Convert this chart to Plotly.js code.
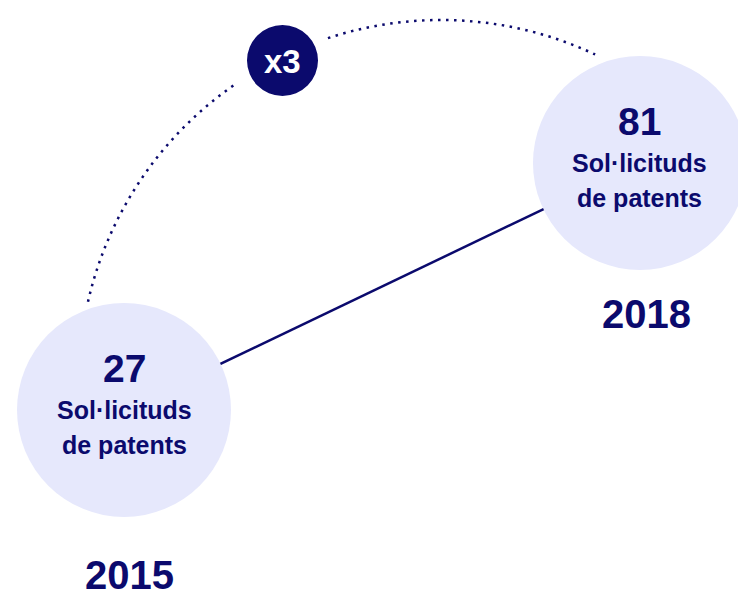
<!DOCTYPE html>
<html>
<head>
<meta charset="utf-8">
<script src="https://cdn.plot.ly/plotly-3.0.1.min.js"></script>
<style>
  html, body { margin: 0; padding: 0; background: #ffffff; }
  #chart { width: 738px; height: 600px; }
</style>
</head>
<body>
<div id="chart"></div>
<script>
// Patent applications, 2015 vs 2018

var years = [2015, 2018];
var year_labels = ['2015', '2018'];
var counts = [27, 81];
var label_lines = ['Sol·licituds', 'de patents'];

var NAVY = '#0b0a6d';
var LAVENDER = '#e6e8fc';
var FONT = 'Liberation Sans, Arial, sans-serif';
var W = 738, H = 600;

// pixel -> paper helpers, used only for the decorations (arc and badge)
function px(x){ return x / W; }
function py(y){ return 1 - y / H; }

// Dotted arc built from cubic bezier segments (pixel space, then paper)
function arc_path(cx, cy, r, a1, a2){
	var t1 = a1 * Math.PI / 180;
	var t2 = a2 * Math.PI / 180;
	var h = 4 / 3 * Math.tan((t2 - t1) / 4);
	var p0 = [cx + r * Math.cos(t1), cy - r * Math.sin(t1)];
	var p3 = [cx + r * Math.cos(t2), cy - r * Math.sin(t2)];
	var p1 = [p0[0] - h * r * Math.sin(t1), p0[1] - h * r * Math.cos(t1)];
	var p2 = [p3[0] + h * r * Math.sin(t2), p3[1] + h * r * Math.cos(t2)];
	return 'M ' + px(p0[0]) + ',' + py(p0[1]) +
		' C ' + px(p1[0]) + ',' + py(p1[1]) + ' ' +
		px(p2[0]) + ',' + py(p2[1]) + ' ' +
		px(p3[0]) + ',' + py(p3[1]);
}

var arc_line = {color: NAVY, width: 2.5, dash: '2.5px,5.5px'};
var shapes = [
	{type: 'path', xref: 'paper', yref: 'paper', layer: 'below',
		path: arc_path(441, 382, 362, 167.2, 124.2), line: arc_line},
	{type: 'path', xref: 'paper', yref: 'paper', layer: 'below',
		path: arc_path(441, 382, 362, 108.2, 64.8), line: arc_line},
	// x3 badge
	{type: 'circle', xref: 'paper', yref: 'paper', layer: 'above',
		x0: px(282.5 - 35.5), x1: px(282.5 + 35.5),
		y0: py(60.5 + 35.5), y1: py(60.5 - 35.5),
		fillcolor: NAVY, line: {width: 0}}
];

var traces = [
	{
		x: years, y: counts,
		mode: 'lines',
		line: {color: NAVY, width: 2.5},
		hoverinfo: 'skip'
	},
	{
		x: years, y: counts,
		mode: 'markers',
		marker: {size: 214, color: LAVENDER, line: {width: 0}},
		hoverinfo: 'skip'
	}
];

var annotations = [];
var year_shift = [[5, -165], [7, -151]];
years.forEach(function(yr, i){
	annotations.push({
		x: yr, y: counts[i], text: '<b>' + counts[i] + '</b>',
		showarrow: false, yshift: 42, xanchor: 'center', yanchor: 'middle',
		font: {family: FONT, size: 39, color: NAVY}
	});
	label_lines.forEach(function(line, j){
		annotations.push({
			x: yr, y: counts[i], text: '<b>' + line + '</b>',
			showarrow: false, yshift: j == 0 ? 0 : -35,
			xanchor: 'center', yanchor: 'middle',
			font: {family: FONT, size: 25, color: NAVY}
		});
	});
	annotations.push({
		x: yr, y: counts[i], text: '<b>' + year_labels[i] + '</b>',
		showarrow: false, xshift: year_shift[i][0], yshift: year_shift[i][1],
		xanchor: 'center', yanchor: 'middle',
		font: {family: FONT, size: 40, color: NAVY}
	});
});

annotations.push({
	xref: 'paper', yref: 'paper', x: px(282.5), y: py(61),
	xanchor: 'center', yanchor: 'middle',
	text: '<b>x' + (counts[1] / counts[0]) + '</b>',
	showarrow: false,
	font: {family: FONT, size: 33, color: '#ffffff'}
});

var layout = {
	width: W,
	height: H,
	margin: {l: 0, r: 0, t: 0, b: 0},
	paper_bgcolor: '#ffffff',
	plot_bgcolor: '#ffffff',
	showlegend: false,
	xaxis: {range: [2014.279, 2018.570], visible: false, fixedrange: true},
	yaxis: {range: [-14.54, 116.64], visible: false, fixedrange: true},
	shapes: shapes,
	annotations: annotations
};

Plotly.newPlot('chart', traces, layout, {staticPlot: true, displayModeBar: false});
</script>
</body>
</html>
